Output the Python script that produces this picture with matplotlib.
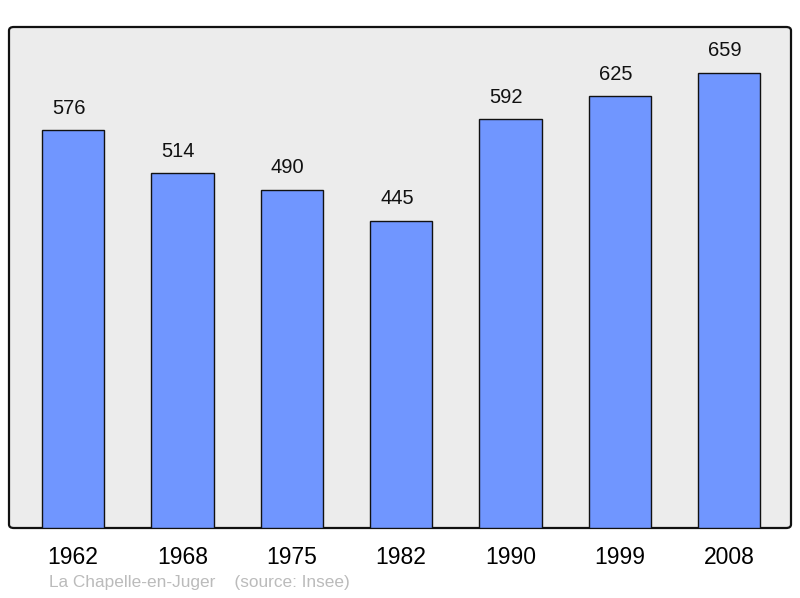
import numpy as np
import matplotlib.pyplot as plt
from matplotlib.patches import FancyBboxPatch

plt.rcParams['font.family'] = ['Liberation Sans', 'DejaVu Sans']

# Données
years = ['1962', '1968', '1975', '1982', '1990', '1999', '2008']
population = [576, 514, 490, 445, 592, 625, 659]

fig = plt.figure(figsize=(8, 5.98), dpi=100)
ax = fig.add_axes([9/800, 70/598, 782/800, 501/598])
ax.set_facecolor('none')
ax.set_zorder(1)

# Cadre arrondi
frame = FancyBboxPatch((9/800, 70/598), 782/800, 501/598,
                       boxstyle='round,pad=0,rounding_size=0.006',
                       transform=fig.transFigure, facecolor='#ececec',
                       edgecolor='#111111', linewidth=1.6, zorder=0)
fig.patches.append(frame)

x = np.arange(len(years))
ax.bar(x, population, width=0.57, color='#7096ff', edgecolor='#111111',
       linewidth=1.0, zorder=2)

for xi, v in zip(x, population):
    ax.annotate(str(v), (xi, v), xytext=(-3, 9), textcoords='offset points',
                ha='center', va='bottom', fontsize=14.5, color='#111111')

ax.set_xlim(-0.585, 6.565)
ax.set_ylim(0, 725.5)
for s in ax.spines.values():
    s.set_visible(False)
ax.set_yticks([])
ax.set_xticks(x)
ax.set_xticklabels(years, fontsize=16.5)
ax.tick_params(axis='x', length=0, pad=13)

fig.text(49/800, 1 - 583/598, 'La Chapelle-en-Juger    (source: Insee)',
         fontsize=12.4, color='#bbbbbb', va='center', ha='left')

fig.savefig('out.png', dpi=100)
